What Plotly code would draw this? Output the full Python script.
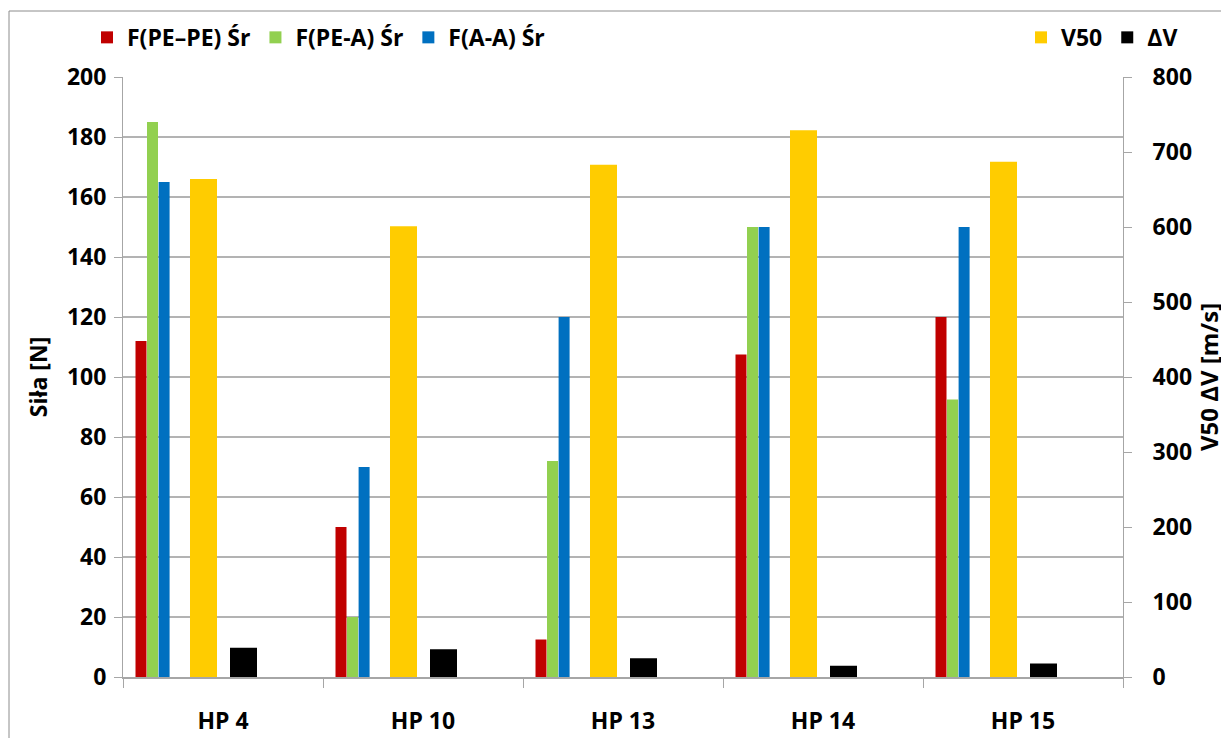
import plotly.graph_objects as go

categories = ["HP 4", "HP 10", "HP 13", "HP 14", "HP 15"]
f_pe_pe = [112, 50, 12.5, 107.5, 120]
f_pe_a = [185, 20, 72, 150, 92.5]
f_a_a = [165, 70, 120, 150, 150]
v50 = [664, 601, 683, 729, 687]
dv = [39, 37, 25, 15, 18]

FONT = "Open Sans"
fig = go.Figure()

primary = [
    ("F(PE–PE) Śr", f_pe_pe, "#C00000", -0.4375),
    ("F(PE-A) Śr", f_pe_a, "#92D050", -0.38),
    ("F(A-A) Śr", f_a_a, "#0070C0", -0.322),
]
for name, vals, col, off in primary:
    fig.add_trace(go.Bar(x=categories, y=vals, name=name, marker_color=col,
                         marker_line_width=0, offset=off, width=0.055,
                         yaxis="y", legend="legend"))

secondary = [
    ("V50", v50, "#FFCC00", -0.165),
    ("ΔV", dv, "#000000", 0.035),
]
for name, vals, col, off in secondary:
    fig.add_trace(go.Bar(x=categories, y=vals, name=name, marker_color=col,
                         marker_line_width=0, offset=off, width=0.135,
                         yaxis="y2", legend="legend2"))

axis_font = dict(family=FONT, size=23, color="black", weight="bold")
leg_font = dict(family=FONT, size=23, color="black", weight="bold")

fig.update_layout(
    width=1221, height=730,
    margin=dict(l=115, r=106, t=69, b=61, autoexpand=False),
    paper_bgcolor="white", plot_bgcolor="white",
    barmode="overlay",
    font=dict(family=FONT, color="black"),
    xaxis=dict(
        type="category", range=[-0.5, 4.5], automargin=False,
        showgrid=False, showline=True, linecolor="#a6a6a6", linewidth=2,
        ticks="outside", tickson="boundaries", ticklen=9, tickcolor="#a6a6a6",
        tickfont=axis_font, ticklabelstandoff=22,
    ),
    yaxis=dict(
        range=[0, 200], dtick=20, showgrid=True, gridcolor="#b3b3b3", gridwidth=2,
        showline=True, linecolor="#a6a6a6", linewidth=1, automargin=False,
        ticks="outside", ticklen=8, tickcolor="#a6a6a6",
        tickfont=axis_font, ticklabelstandoff=3, zeroline=False,
        title=dict(text="Siła [N]", font=dict(family=FONT, size=23, weight="bold"), standoff=12),
    ),
    yaxis2=dict(
        range=[0, 800], dtick=100, overlaying="y", side="right", showgrid=False,
        showline=True, linecolor="#a6a6a6", linewidth=1, automargin=False,
        ticks="outside", ticklen=8, tickcolor="#a6a6a6",
        tickfont=axis_font, ticklabelstandoff=16, zeroline=False,
        title=dict(text="V50 ΔV [m/s]", font=dict(family=FONT, size=24, weight="bold"), standoff=10),
    ),
    legend=dict(orientation="h", x=-0.036, y=1.066, xanchor="left", yanchor="middle",
                font=leg_font, itemwidth=30,
                bgcolor="rgba(0,0,0,0)", traceorder="normal"),
    legend2=dict(orientation="h", x=0.898, y=1.066, xanchor="left", yanchor="middle",
                 font=leg_font, itemwidth=30,
                 bgcolor="rgba(0,0,0,0)", traceorder="normal"),
    shapes=[dict(type="rect", xref="paper", yref="paper",
                 x0=-0.114, x1=1.2, y0=-0.2, y1=1.11,
                 line=dict(color="#8c8c8c", width=1), layer="below")],
)

fig.write_html("out.html")
